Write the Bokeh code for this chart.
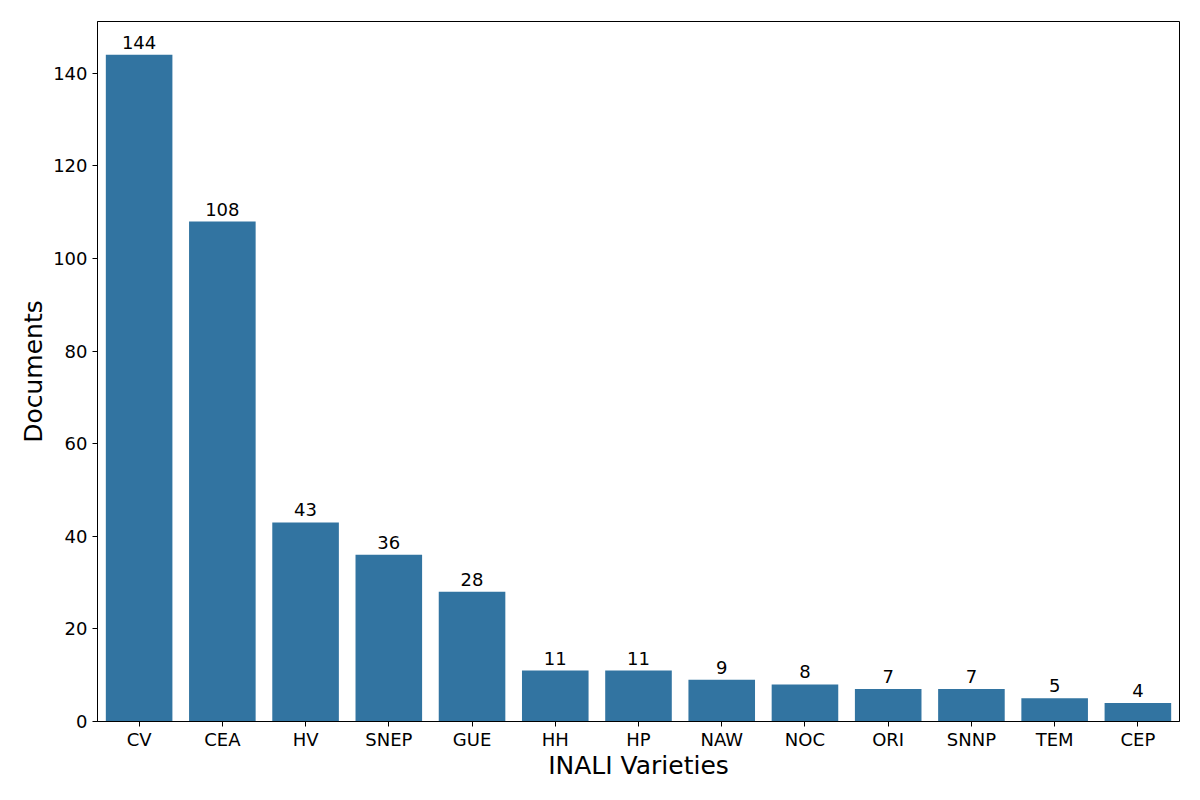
from bokeh.plotting import figure
from bokeh.models import ColumnDataSource, FactorRange, Range1d, FixedTicker, LabelSet
from bokeh.core.properties import value
from bokeh.embed import file_html
from bokeh.resources import INLINE

categories = ["CV", "CEA", "HV", "SNEP", "GUE", "HH", "HP", "NAW", "NOC", "ORI", "SNNP", "TEM", "CEP"]
documents = [144, 108, 43, 36, 28, 11, 11, 9, 8, 7, 7, 5, 4]
y_ticks = [0, 20, 40, 60, 80, 100, 120, 140]

src = ColumnDataSource(dict(cat=categories, val=documents, lab=[str(v) for v in documents]))

p = figure(width=1184, height=784, output_backend="svg", toolbar_location=None,
           x_range=FactorRange(factors=categories), y_range=Range1d(0, max(documents) * 1.05),
           min_border_left=97, min_border_right=5, min_border_top=21, min_border_bottom=63)

p.vbar(x="cat", top="val", width=0.8, source=src, fill_color="#3274A1", line_color=None)

labels = LabelSet(x="cat", y="val", text="lab", source=src, text_align="center",
                  text_baseline="alphabetic", y_offset=6, text_font=value("DejaVu Sans"),
                  text_font_size="18px", text_color="black")
p.add_layout(labels)

p.xgrid.visible = False
p.ygrid.visible = False
p.outline_line_color = "black"
p.outline_line_alpha = 1
p.outline_line_width = 1
p.background_fill_color = "white"
p.border_fill_color = "white"

p.yaxis.ticker = FixedTicker(ticks=y_ticks)
p.yaxis.minor_tick_line_color = None
p.xaxis.axis_label = "INALI Varieties"
p.yaxis.axis_label = "Documents"
for ax in (p.xaxis[0], p.yaxis[0]):
    ax.axis_label_text_font = "DejaVu Sans"
    ax.axis_label_text_font_size = "25px"
    ax.axis_label_text_font_style = "normal"
    ax.axis_label_text_color = "black"
    ax.major_label_text_font = "DejaVu Sans"
    ax.major_label_text_font_size = "18px"
    ax.major_label_text_color = "black"
    ax.axis_line_color = "black"
    ax.major_tick_line_color = "black"
    ax.major_tick_out = 5
    ax.major_tick_in = 0
p.xaxis.major_label_standoff = 2
p.xaxis.axis_label_standoff = -2
p.yaxis.major_label_standoff = 5
p.yaxis.axis_label_standoff = 2

open("out.html", "w").write(file_html(p, INLINE))
